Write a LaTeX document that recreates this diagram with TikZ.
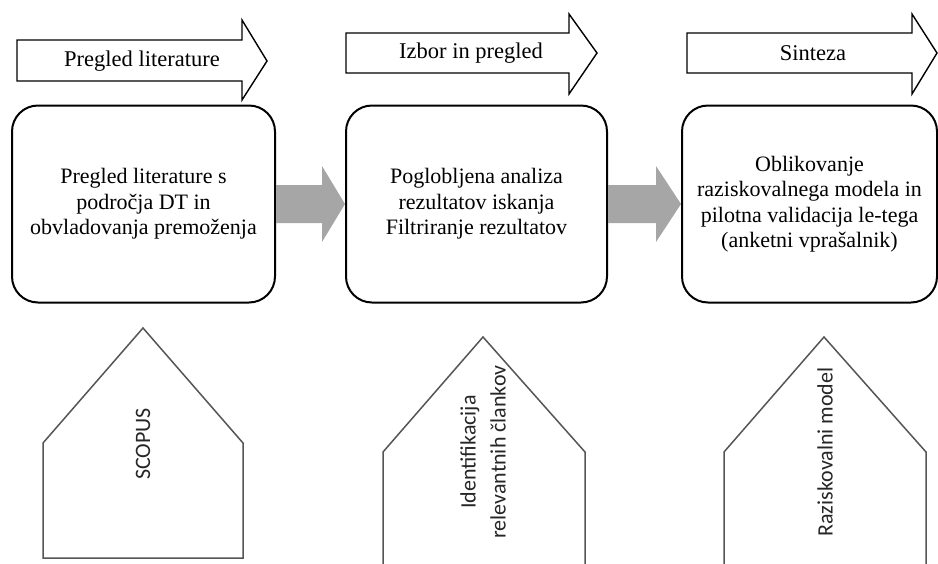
\documentclass[tikz,border=0pt]{standalone}
\usepackage{fontspec}
\setmainfont{Liberation Serif}
\newfontfamily\calfont{Carlito}
\usetikzlibrary{calc}
\definecolor{arrgray}{HTML}{A6A6A6}
\definecolor{pentline}{HTML}{555555}
\tikzset{
  phase/.style={draw=black, line width=1.4pt, fill=white},
  phasetext/.style={font=\fontsize{22.5}{26}\selectfont, inner sep=0pt},
  stagebox/.style={draw=black, line width=2pt, rounded corners=26pt, align=center,
    font=\fontsize{22}{25.5}\selectfont, inner sep=0pt},
  flow/.style={fill=arrgray, draw=none},
  pent/.style={draw=pentline, line width=1.5pt},
  penttext/.style={font=\calfont\fontsize{22}{30}\selectfont, align=center, rotate=90, inner sep=0pt, text=black!85}
}
\begin{document}
\begin{tikzpicture}[x=1pt,y=-1pt]
\useasboundingbox (0,0) rectangle (938,563);
% top phase arrows
\draw[phase] (17,40) -- (242,40) -- (242,20) -- (267,61) -- (242,100) -- (242,81) -- (17,81) -- cycle;
\node[phasetext] (p1) at (142,61) {Pregled literature};
\draw[phase] (346,33) -- (569,33) -- (569,14) -- (597,53) -- (569,94) -- (569,73) -- (346,73) -- cycle;
\node[phasetext] (p2) at (471,53) {Izbor in pregled};
\draw[phase] (687,33) -- (912,33) -- (912,14) -- (937,53) -- (912,94) -- (912,73) -- (687,73) -- cycle;
\node[phasetext] (p3) at (813,53) {Sinteza};
% stage boxes
\node[stagebox, minimum width=263pt, minimum height=197pt] (b1) at (143.5,204)
  {Pregled literature s\\področja DT in\\obvladovanja premoženja};
\node[stagebox, minimum width=261pt, minimum height=197pt] (b2) at (476.5,204)
  {Poglobljena analiza\\rezultatov iskanja\\Filtriranje rezultatov};
\node[stagebox, minimum width=255pt, minimum height=197pt] (b3) at (809.5,204)
  {Oblikovanje\\raziskovalnega modela in\\pilotna validacija le-tega\\(anketni vprašalnik)};
% gray flow arrows
\fill[flow] ($(b1.east)+(0,-19)$) -- ($(b1.east)+(46,-19)$) -- ($(b1.east)+(46,-38)$)
  -- (b2.west) -- ($(b1.east)+(46,38)$) -- ($(b1.east)+(46,19)$) -- ($(b1.east)+(0,19)$) -- cycle;
\fill[flow] ($(b2.east)+(0,-19)$) -- ($(b2.east)+(48,-19)$) -- ($(b2.east)+(48,-38)$)
  -- (b3.west) -- ($(b2.east)+(48,38)$) -- ($(b2.east)+(48,19)$) -- ($(b2.east)+(0,19)$) -- cycle;
% pentagons
\draw[pent] (43,558) -- (43,443) -- (143,328) -- (243,443) -- (243,558) -- cycle;
\node[penttext] (t1) at (143,444) {SCOPUS};
\draw[pent] (383,570) -- (383,452) -- (483,337) -- (585,452) -- (585,570);
\node[penttext] (t2) at (483,452) {Identifikacija\\relevantnih člankov};
\draw[pent] (724,570) -- (724,452) -- (824,337) -- (926,452) -- (926,570);
\node[penttext] (t3) at (825,452) {Raziskovalni model};
\end{tikzpicture}
\end{document}
